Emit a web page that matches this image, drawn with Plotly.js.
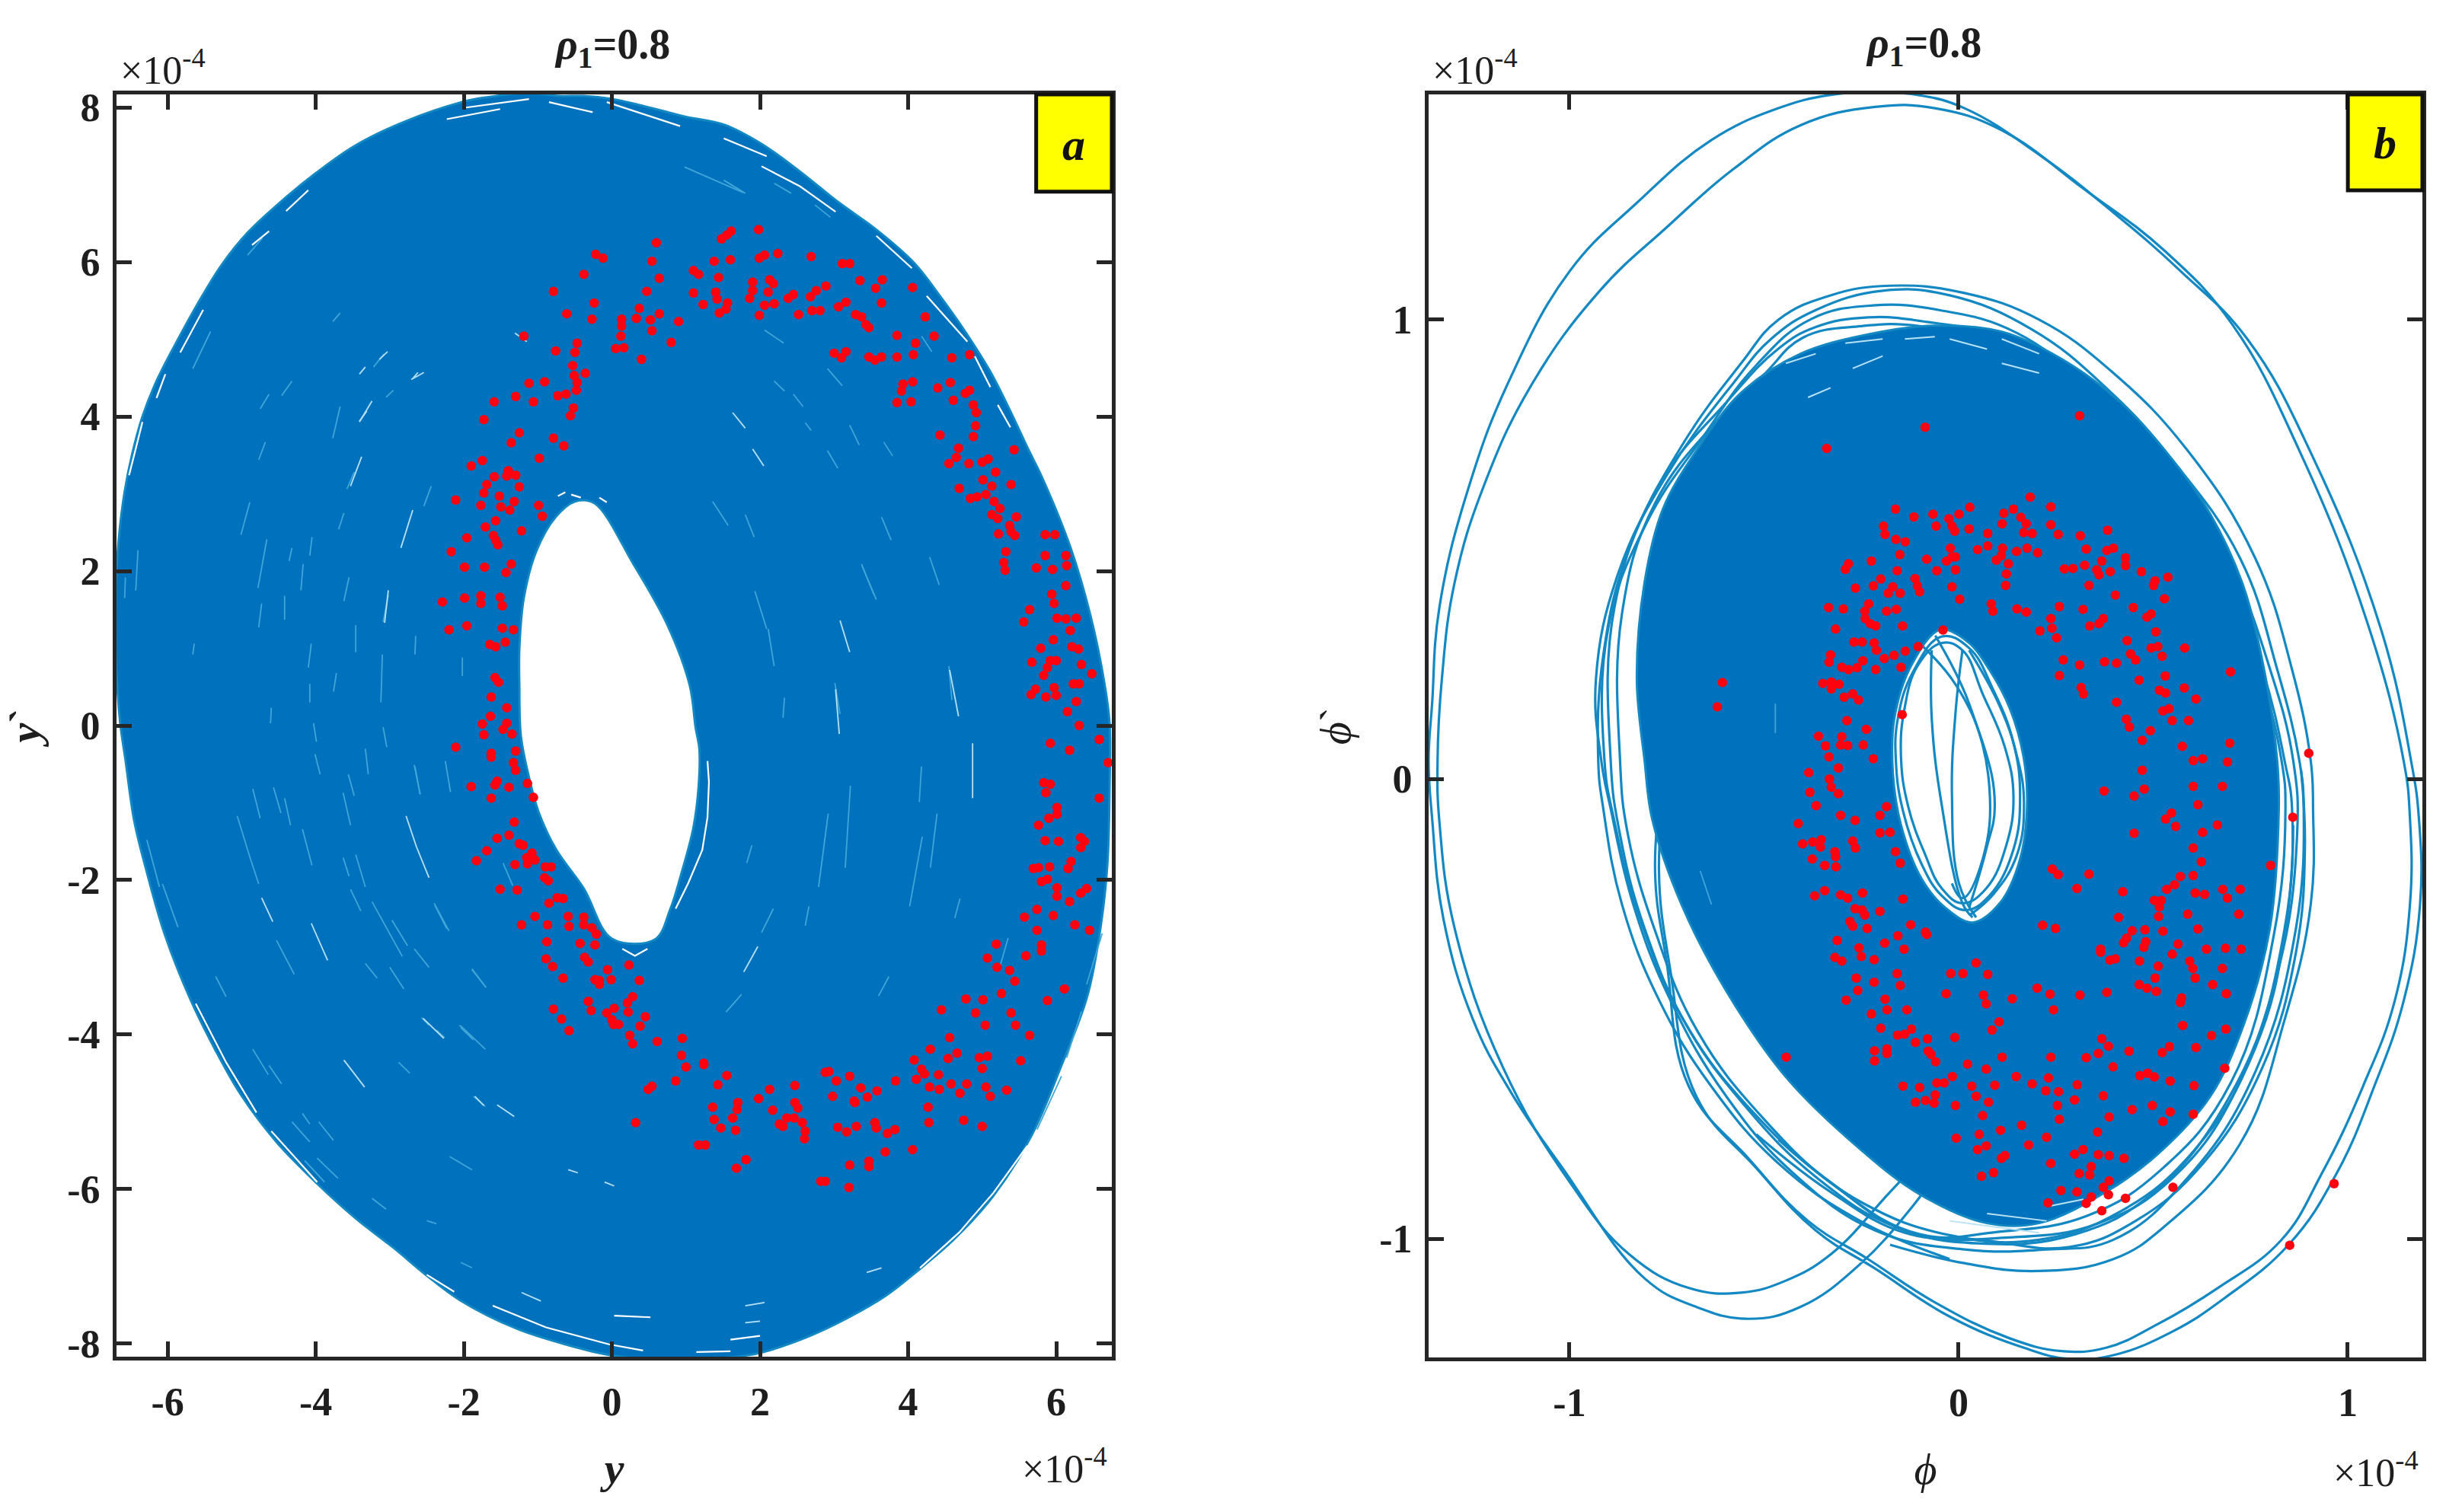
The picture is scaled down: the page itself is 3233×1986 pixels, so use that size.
<!DOCTYPE html>
<html><head><meta charset="utf-8">
<script src="https://cdn.plot.ly/plotly-3.0.1.min.js"></script>
<style>html,body{margin:0;padding:0;background:#fff}#c{width:3233px;height:1986px}</style>
</head><body><div id="c"></div>
<script>
const xTicksA=[-6,-4,-2,0,2,4,6], yTicksA=[-8,-6,-4,-2,0,2,4,6,8];
const xTicksB=[-1,0,1], yTicksB=[-1,0,1];
const titleText='<i>ρ</i><sub>1</sub>=0.8';

const ringOuterA=[[-6.70,1.4],[-6.69,1.99],[-6.65,2.51],[-6.58,3.03],[-6.48,3.51],[-6.34,4.0],[-6.14,4.48],[-5.86,5.0],[-5.6,5.45],[-5.28,5.95],[-4.92,6.38],[-4.46,6.79],[-4.00,7.15],[-3.48,7.50],[-2.82,7.81],[-2.03,8.07],[-1.71,8.13],[-1.12,8.19],[-.72,8.15],[-.39,8.15],[0,8.11],[.59,7.98],[1.0,7.88],[1.51,7.78],[2.02,7.53],[2.54,7.17],[3.05,6.78],[3.57,6.42],[4.08,5.99],[4.43,5.56],[4.77,5.10],[5.11,4.58],[5.39,4.05],[5.63,3.56],[5.80,3.23],[6.19,2.31],[6.46,1.43],[6.65,.55],[6.72,.03],[6.72,-.8],[6.69,-1.8],[6.60,-2.6],[6.42,-3.5],[6.07,-4.40],[5.67,-5.30],[5.15,-6.09],[4.62,-6.65],[4.10,-7.08],[3.70,-7.38],[3.18,-7.67],[2.65,-7.91],[2.00,-8.12],[1.47,-8.19],[.82,-8.21],[.03,-8.16],[-.63,-8.01],[-1.28,-7.81],[-2.05,-7.44],[-2.50,-7.12],[-2.95,-6.76],[-3.46,-6.38],[-3.98,-5.93],[-4.53,-5.39],[-5.01,-4.78],[-5.35,-4.21],[-5.69,-3.55],[-6.04,-2.70],[-6.28,-1.90],[-6.45,-1.24],[-6.57,-.44],[-6.64,.03],[-6.69,.7]];
const ringHoleA=[[-.5,2.90],[-.24,2.88],[.29,2.09],[.75,1.30],[1.05,.52],[1.13,-.03],[1.18,-.30],[1.17,-.79],[1.10,-1.32],[.93,-1.94],[.79,-2.37],[.58,-2.77],[0,-2.76],[-.38,-2.11],[-.75,-1.61],[-.99,-1.12],[-1.13,-.63],[-1.23,-.13],[-1.25,.52],[-1.25,.99],[-1.19,1.65],[-1.02,2.26],[-.76,2.70]];

const edgeSlitsA=[
[[-1.61,-7.51],[-.89,-7.79],[-.04,-8.01],[.42,-8.09]],[[4.16,-7.02],[4.69,-6.56],[5.15,-6.05],[5.61,-5.44]],
[[-5.52,5.38],[-5.83,4.83]],[[-6.03,4.55],[-6.15,4.24]],[[-6.34,3.93],[-6.52,3.24]],[[-4.86,6.22],[-4.63,6.40]],[[-4.40,6.66],[-4.10,6.93]],
[[-1.97,8.00],[-1.12,8.11]],[[-.85,8.07],[-.26,7.94]],[[-.07,8.07],[.92,7.76]],[[-2.23,7.85],[-1.51,7.98]],
[[2.02,7.24],[2.54,6.98],[3.02,6.65]],[[3.57,6.34],[4.05,5.92]],[[4.25,5.56],[4.80,4.97]],[[4.90,4.78],[5.11,4.38]],[[5.21,4.15],[5.38,3.86]],[[1.51,7.60],[1.71,7.52],[2.09,7.37]],
[[1.29,-.46],[1.31,-.73],[1.29,-1.19],[1.22,-1.61],[1.03,-2.04],[.86,-2.37]],[[.14,-2.89],[.31,-2.98],[.48,-2.89]],
[[-.73,2.97],[-.63,3.02]],[[-.55,2.99],[-.42,2.95]],[[-.17,2.95],[-.07,2.89]],
[[-5.62,-3.60],[-5.21,-4.36],[-4.80,-5.01]],[[-4.60,-5.25],[-3.98,-5.91]],[[-2.50,-7.11],[-2.13,-7.33]],
[[.03,-7.64],[.52,-7.66]],[[1.14,-8.11],[1.60,-8.10]],[[1.60,-7.95],[2.0,-7.90]]];
const brightStreaksA=[
[[1.80,-7.51],[2.06,-7.47]],[[-1.22,-7.34],[-.96,-7.45]],[[1.80,-7.73],[2.0,-7.71]],[[3.44,-7.08],[3.64,-7.02]],
[[-2.62,4.57],[-2.69,4.49]],[[-3.31,4.07],[-3.41,3.94]],[[1.63,4.05],[1.80,3.85]],[[1.90,3.58],[2.05,3.36]],[[-1.55,-4.91],[-1.32,-5.06]],[[-.59,-5.75],[-.46,-5.79]],[[-.10,-5.91],[.03,-5.96]],[[1.78,-3.19],[1.97,-2.86]],[[-2.78,-1.17],[-2.64,-1.57],[-2.47,-1.97]],[[3.08,1.36],[3.21,.95]],[[4.87,-.23],[4.87,-.94]],[[4.56,.72],[4.68,.12]],[[3.02,.47],[3.07,-.11]],[[-1.31,5.08],[-1.15,4.97]],
[[-2.71,4.48],[-2.54,4.57]],[[-3.41,4.55],[-3.33,4.64]],[[-3.14,4.74],[-3.03,4.84]],[[-3.41,3.93],[-3.24,4.20]],[[-2.85,2.30],[-2.69,2.79]],[[-3.53,3.10],[-3.38,3.48]],[[-3.07,1.33],[-3.02,1.75]],[[-4.73,-2.23],[-4.58,-2.54]],[[-2.55,-3.79],[-2.27,-4.05]],[[-3.62,-4.33],[-3.34,-4.68]],[[-1.85,-4.80],[-1.73,-4.92]],[[-4.06,-2.56],[-3.84,-3.04]]];
const lightStreaksA=[
[[-3.08,4.81],[-3.22,4.64]],[[-3.67,5.34],[-3.77,5.23]],[[-4.72,6.31],[-4.92,6.09]],[[.98,7.23],[1.77,6.90]],[[-3.48,3.28],[-3.58,3.06]],[[1.36,2.90],[1.57,2.59]],[[1.80,2.73],[1.92,2.44]],[[1.93,1.74],[2.09,1.25]],[[2.11,1.25],[2.19,.77]],[[4.55,.77],[4.59,.33]],[[3.37,2.09],[3.54,1.69]],[[4.29,2.18],[4.42,1.82]],[[3.64,2.70],[3.77,2.40]],[[3.21,3.89],[3.34,3.63]],[[2.45,4.29],[2.58,4.13]],[[2.06,5.12],[2.32,4.95]],[[2.91,4.62],[3.11,4.40]],[[-3.09,1.34],[-3.02,1.69]],[[3.01,.55],[3.08,.15]],[[3.38,2.06],[3.57,1.63]],[[4.39,-1.14],[4.30,-1.84]],[[4.19,-1.44],[4.02,-2.34]],[[2.92,-1.14],[2.79,-2.09]],[[3.22,-.78],[3.15,-1.84]],[[5.35,-2.75],[5.23,-3.15]],[[2.66,-2.34],[2.61,-2.59]],[[4.70,-2.24],[4.63,-2.49]],[[6.34,-3.70],[6.14,-4.30]],[[6.62,-2.69],[6.41,-3.35]],[[3.74,-3.25],[3.60,-3.50]],[[4.18,-.53],[4.15,-.99]],[[-2.66,-.53],[-2.59,-.89]],[[-2.25,-.46],[-2.18,-.86]],[[-1.47,-1.78],[-1.34,-2.07]],[[-2.40,-2.30],[-2.20,-2.66]],[[-1.89,-3.16],[-1.70,-3.39]],[[-2.06,-3.88],[-1.89,-4.04]],[[-2.57,-3.78],[-2.47,-3.88]],[[-2.37,-3.94],[-2.26,-4.04]],[[2.02,-2.68],[2.18,-2.37]],[[1.54,-3.71],[1.75,-3.48]],[[1.82,-1.78],[1.89,-1.55]],[[2.33,.36],[2.31,.10]],[[-2.04,-3.89],[-1.71,-4.19]],[[-1.87,-4.80],[-1.71,-4.93]],[[5.74,-5.23],[6.07,-4.54]],
[[2.19,4.46],[2.33,4.33]],[[2.91,3.56],[3.05,3.33]],[[3.67,3.67],[3.79,3.49]],[[2.61,3.92],[2.69,3.82]],[[1.51,7.06],[1.80,6.89]],[[2.19,7.02],[2.42,6.89]],[[2.74,6.74],[2.95,6.58]],[[4.18,5.04],[4.32,4.84]],
[[-5.06,-1.17],[-4.90,-1.67],[-4.77,-2.05]],[[-4.85,-.82],[-4.75,-1.20]],[[-4.57,-.80],[-4.47,-1.13]],[[-4.42,-.94],[-4.34,-1.29]],[[-4.18,-1.34],[-4.05,-1.81]],[[-3.63,-.87],[-3.53,-1.29]],[[-3.56,-.63],[-3.48,-.91]],[[-4.01,-.37],[-3.94,-.63]],[[-4.03,.03],[-3.99,-.21]],[[-3.09,-.02],[-3.04,-.28]],[[-2.67,-.51],[-2.59,-.89]],[[-3.33,-.30],[-3.29,-.63]],[[-4.53,-2.78],[-4.29,-3.22]],[[-6.28,-1.48],[-6.11,-2.09]],[[-6.07,-2.05],[-5.86,-2.61]],[[-5.35,-3.25],[-5.21,-3.51]],[[-3.24,-2.28],[-2.83,-2.99]],[[-2.97,-2.52],[-2.76,-2.85]],[[-3.53,-2.12],[-3.39,-2.40]],[[-3.63,-1.71],[-3.55,-1.95]],[[-3.46,-1.67],[-3.33,-2.09]],[[-3.33,-3.08],[-3.17,-3.27]],[[-3.00,-3.13],[-2.81,-3.41]],[[-2.39,-2.33],[-2.23,-2.63]],[[-2.67,-2.89],[-2.47,-3.13]],[[-2.04,-3.91],[-1.87,-4.07]],[[-1.89,-3.15],[-1.70,-3.39]],[[-4.85,-4.19],[-4.64,-4.52]],[[-4.63,-4.40],[-4.46,-4.64]],[[-4.32,-5.13],[-4.08,-5.39]],[[-3.96,-5.13],[-3.76,-5.37]],[[-4.18,-5.02],[-4.08,-5.16]],[[-4.15,-5.63],[-3.88,-5.91]],[[-3.98,-5.60],[-3.70,-5.86]],[[-3.24,-6.12],[-3.05,-6.26]],[[-2.50,-6.41],[-2.37,-6.45]],[[-2.19,-5.58],[-1.89,-5.75]],[[-2.88,-4.36],[-2.73,-4.50]],[[-2.04,-6.95],[-1.89,-7.02]],
[[-3.05,4.25],[-2.95,4.34]],[[-2.54,2.84],[-2.44,3.10]],[[-4.77,3.44],[-4.68,3.67]],[[-4.46,4.27],[-4.32,4.46]],[[-4.75,4.10],[-4.63,4.29]],[[-5.01,2.47],[-4.89,2.89]],[[-4.78,1.78],[-4.66,2.41]],[[-4.20,1.75],[-4.17,2.09]],[[-3.62,1.61],[-3.55,1.92]],[[-4.10,.75],[-4.06,1.06]],[[-3.12,.30],[-3.10,.92]],[[-4.08,.30],[-4.08,.54]],[[-4.61,.03],[-4.60,.23]],[[-3.76,.44],[-3.72,.68]],[[-6.43,1.75],[-6.40,2.27]],[[-6.58,1.65],[-6.57,1.92]],[[-5.66,.92],[-5.64,1.06]],[[-3.69,2.54],[-3.62,2.75]],[[-4.08,2.20],[-4.05,2.44]],[[-4.36,2.13],[-4.32,2.30]],[[-2.66,.92],[-2.65,1.16]],[[-2.02,.64],[-2.02,.88]],[[-3.46,.95],[-3.46,1.30]],[[-4.77,1.27],[-4.73,1.58]],[[-4.42,1.37],[-4.42,1.68]],[[-3.77,3.72],[-3.67,4.13]],[[-5.66,4.62],[-5.42,5.10]]];

const redA=[[1.98,6.42],[1.61,6.40],[1.55,6.35],[1.48,6.30],[.60,6.25],[-.22,6.10],[-.12,6.05],[.54,6.01],[1.38,6.01],[1.60,6.03],[1.99,6.05],[2.06,6.09],[2.24,6.11],[2.69,6.07],[3.11,5.98],[3.21,5.98],[1.10,5.89],[1.17,5.84],[-.38,5.84],[.64,5.79],[1.44,5.80],[2.13,5.77],[2.18,5.72],[1.90,5.74],[3.35,5.76],[3.65,5.77],[3.56,5.66],[2.89,5.69],[2.76,5.63],[2.68,5.55],[-.79,5.62],[.47,5.62],[1.10,5.60],[1.40,5.61],[1.42,5.52],[1.90,5.63],[1.86,5.53],[2.11,5.61],[2.45,5.58],[2.38,5.53],[4.06,5.67],[-.24,5.47],[1.23,5.45],[1.56,5.47],[1.54,5.39],[1.45,5.34],[2.06,5.44],[2.19,5.46],[.37,5.40],[3.16,5.48],[3.06,5.42],[3.64,5.47],[-.61,5.33],[.64,5.33],[1.99,5.31],[2.52,5.32],[2.70,5.37],[2.81,5.37],[3.29,5.32],[3.37,5.29],[4.23,5.29],[-.27,5.26],[.13,5.26],[.33,5.27],[.52,5.25],[.90,5.23],[3.43,5.19],[3.47,5.15],[.13,5.17],[.54,5.11],[.12,5.04],[-1.19,5.04],[3.85,5.05],[4.35,5.04],[-.47,4.95],[.80,4.96],[4.10,4.95],[.05,4.88],[.16,4.89],[-.76,4.85],[-.50,4.83],[3.16,4.84],[3.00,4.82],[3.10,4.76],[4.07,4.80],[4.83,4.80],[3.85,4.77],[3.47,4.77],[3.64,4.77],[3.55,4.73],[4.59,4.76],[.40,4.74],[-.53,4.66],[-.36,4.56],[-.51,4.53],[-.47,4.44],[-.48,4.34],[-.91,4.45],[-1.12,4.43],[4.06,4.45],[3.93,4.42],[3.91,4.33],[4.57,4.44],[4.40,4.37],[4.83,4.34],[4.77,4.30],[-.62,4.29],[-.73,4.27],[-1.30,4.26],[-1.06,4.19],[-1.59,4.19],[3.85,4.18],[4.04,4.19],[4.61,4.21],[4.88,4.15],[4.92,4.05],[-.52,4.11],[-.56,4.01],[-1.73,3.96],[4.91,3.88],[-1.25,3.79],[-.79,3.72],[4.88,3.74],[4.43,3.76],[-1.36,3.66],[-.65,3.62],[4.68,3.59],[5.43,3.57],[-.98,3.46],[4.65,3.47],[-1.75,3.43],[5.08,3.45],[5.0,3.41],[4.55,3.39],[4.82,3.39],[-1.90,3.36],[-1.40,3.30],[-1.30,3.24],[-1.42,3.23],[-1.59,3.22],[5.18,3.28],[-1.69,3.12],[-1.25,3.09],[5.01,3.18],[5.39,3.12],[5.13,3.10],[-1.73,3.01],[4.69,3.07],[5.05,2.99],[-1.52,2.97],[4.93,2.96],[4.84,2.94],[-2.11,2.92],[-1.32,2.90],[5.16,2.90],[-1.77,2.85],[-1.50,2.83],[-.99,2.85],[-1.38,2.79],[5.24,2.81],[-.94,2.71],[5.13,2.73],[5.21,2.68],[5.46,2.70],[-1.57,2.65],[-1.71,2.57],[5.37,2.59],[-1.22,2.52],[5.39,2.51],[5.22,2.48],[5.44,2.46],[5.85,2.47],[5.98,2.47],[-1.96,2.43],[-1.60,2.46],[-1.57,2.40],[-1.54,2.34],[-2.17,2.25],[5.32,2.25],[5.85,2.20],[6.13,2.20],[5.29,2.11],[-1.36,2.09],[-1.99,2.05],[-1.72,2.05],[5.31,2.01],[5.73,2.04],[5.95,2.02],[6.14,2.07],[-1.43,1.98],[6.13,1.81],[-1.77,1.68],[-1.99,1.65],[-2.29,1.60],[-1.51,1.66],[-1.77,1.58],[-1.48,1.55],[5.94,1.70],[5.97,1.58],[5.64,1.50],[5.56,1.34],[6.01,1.39],[6.13,1.38],[6.27,1.39],[-2.20,1.24],[-1.96,1.29],[-1.48,1.26],[-1.33,1.24],[6.19,1.23],[5.96,1.11],[-1.44,1.08],[-1.65,1.05],[-1.57,1.02],[5.79,1.00],[6.21,1.02],[6.30,.99],[5.67,.82],[5.92,.84],[6.0,.84],[6.34,.79],[5.88,.75],[6.48,.67],[5.83,.65],[-1.58,.62],[-1.53,.56],[5.72,.47],[5.66,.40],[5.97,.49],[6.23,.54],[6.31,.54],[5.86,.37],[6.0,.39],[6.27,.31],[6.15,.18],
[-1.63,.37],[-1.42,.23],[-1.64,.12],[-1.75,.02],[-1.42,.03],[-1.47,-.05],[-1.73,-.12],[-1.35,-.11],[-2.11,-.28],[-1.30,-.33],[-1.63,-.36],[-1.63,-.41],[-1.33,-.48],[-1.30,-.58],[-1.55,-.72],[-1.58,-.77],[-1.90,-.79],[-1.39,-.80],[-1.14,-.75],[-1.06,-.93],[-1.63,-.94],[-1.32,-1.25],[-1.39,-1.42],[-1.55,-1.46],[-1.69,-1.62],[-1.83,-1.75],[-1.25,-1.53],[-1.20,-1.55],[-1.08,-1.65],[-1.15,-1.71],[-1.04,-1.74],[-1.14,-1.79],[-1.31,-1.80],[-.90,-1.83],[-.82,-1.83],[-.91,-1.97],[-.86,-2.01],[-1.51,-2.12],[-1.28,-2.13],[-.74,-2.23],[-.66,-2.24],[-.85,-2.30],[-1.04,-2.47],[-1.22,-2.58],[-.87,-2.58],[-.59,-2.47],[-.58,-2.60],[-.38,-2.48],[-.38,-2.58],[-.27,-2.62],[-.21,-2.70],[-.88,-2.80],[-.43,-2.82],[-.23,-2.84],[-.89,-3.02],[-.80,-3.12],[-.37,-3.00],[-.32,-3.06],[-.66,-3.27],[-.06,-3.16],[.23,-3.10],[-.01,-3.29],[.37,-3.30],[-.23,-3.29],[-.17,-3.30],[-.17,-3.35],[.28,-3.51],[.21,-3.59],[-.32,-3.57],[-.28,-3.69],[-.79,-3.67],[-.68,-3.80],[-.58,-3.95],[.03,-3.66],[-.07,-3.72],[.22,-3.71],[0,-3.81],[.02,-3.87],[.09,-3.87],[.45,-3.77],[.38,-3.89],[.24,-4.01],[.28,-4.12],[.61,-4.09],[.95,-4.05],[.94,-4.27],[1.24,-4.37],
[6.58,-.18],[6.70,-.48],[5.92,-.23],[6.18,-.32],[6.31,0],[6.58,-.94],[5.83,-.74],[5.92,-.76],[5.86,-.87],[6.01,-1.06],[6.01,-1.15],[5.90,-1.20],[5.76,-1.29],[5.85,-1.49],[6.03,-1.50],[6.33,-1.45],[6.38,-1.50],[6.33,-1.58],[5.69,-1.85],[5.76,-1.84],[5.91,-1.83],[6.20,-1.76],[6.16,-1.85],[5.80,-2.02],[5.88,-1.99],[6.01,-2.10],[6.01,-2.21],[6.41,-2.11],[6.33,-2.17],[6.18,-2.28],[5.74,-2.38],[5.57,-2.48],[5.96,-2.46],[6.25,-2.58],[6.45,-2.65],[5.74,-2.65],[5.80,-2.84],[5.80,-2.92],[5.59,-2.98],[5.19,-2.83],[5.07,-3.01],[5.20,-3.13],[5.37,-3.17],[5.44,-3.31],[6.11,-3.41],[5.88,-3.56],[5.26,-3.47],[4.78,-3.54],[5.01,-3.55],[4.45,-3.68],[4.91,-3.72],[5.39,-3.72],[5.04,-3.88],[5.45,-3.88],[5.64,-4.01],[4.56,-4.04],[4.30,-4.19],[4.66,-4.24],[4.54,-4.31],[4.96,-4.30],[5.07,-4.28],[4.08,-4.33],[5.52,-4.34],[5.00,-4.44],[4.18,-4.45],[4.22,-4.51],[4.41,-4.52],[3.83,-4.60],[4.11,-4.58],[4.58,-4.64],[4.79,-4.64],[5.05,-4.68],[5.33,-4.72],[4.29,-4.68],[4.42,-4.71],[4.70,-4.76],[5.11,-4.80],[2.88,-4.49],[2.93,-4.48],[3.03,-4.60],[3.21,-4.54],[3.36,-4.69],[3.58,-4.73],[3.45,-4.81],[2.98,-4.80],[3.27,-4.86],
[1.0,-4.42],[1.24,-4.39],[1.55,-4.53],[.86,-4.60],[.54,-4.67],[.49,-4.71],[1.43,-4.65],[2.13,-4.71],[2.47,-4.66],[1.98,-4.83],[1.36,-4.94],[1.70,-4.88],[1.69,-4.97],[2.47,-4.88],[2.51,-4.95],[2.17,-4.98],[1.63,-5.08],[1.38,-5.10],[.32,-5.14],[2.36,-5.08],[2.46,-5.08],[2.57,-5.14],[1.47,-5.21],[1.67,-5.24],[2.26,-5.16],[2.31,-5.19],[2.61,-5.25],[2.60,-5.35],[3.05,-5.20],[3.17,-5.26],[3.30,-5.19],[3.55,-5.14],[3.57,-5.21],[3.72,-5.28],[3.82,-5.23],[4.28,-5.14],[4.75,-5.11],[5.0,-5.19],[1.17,-5.43],[1.26,-5.43],[3.69,-5.52],[4.06,-5.49],[1.81,-5.62],[1.68,-5.73],[3.21,-5.69],[3.47,-5.64],[3.47,-5.71],[2.82,-5.90],[2.88,-5.90],[3.20,-5.98],[3.28,-4.88],[4.27,-4.94]];

const coreB=[[-.061,.986],[.111,.973],[.264,.914],[.417,.819],[.532,.713],[.647,.576],[.733,.417],[.790,.217],[.819,.039],[.823,-.065],[.800,-.325],[.733,-.534],[.647,-.690],[.513,-.815],[.379,-.898],[.207,-.966],[.073,-.966],[-.100,-.903],[-.253,-.805],[-.444,-.648],[-.597,-.461],[-.712,-.273],[-.788,-.085],[-.807,.040],[-.827,.217],[-.807,.428],[-.760,.587],[-.674,.714],[-.559,.840],[-.406,.925],[-.233,.967]];
const coreHoleB=[[-.047,.325],[.027,.296],[.079,.238],[.132,.153],[.167,.048],[.176,-.058],[.158,-.174],[.106,-.270],[.036,-.312],[-.034,-.280],[-.095,-.217],[-.148,-.100],[-.169,.016],[-.165,.132],[-.121,.248]];
const orbitOuter1=[[-.05,-.85],[-.119,-.930],[-.253,-1.055],[-.406,-1.148],[-.540,-1.174],[-.674,-1.148],[-.807,-1.086],[-1.018,-.846],[-1.152,-.679],[-1.248,-.523],[-1.324,-.304],[-1.353,-.085],[-1.362,.040],[-1.353,.164],[-1.334,.375],[-1.257,.640],[-1.152,.872],[-.999,1.105],[-.827,1.253],[-.635,1.390],[-.463,1.459],[-.329,1.488],[-.214,1.493],[-.100,1.487],[.015,1.459],[.207,1.358],[.398,1.232],[.570,1.105],[.742,.957],[.915,.692],[1.087,.322],[1.163,.039],[1.183,-.085],[1.186,-.273],[1.144,-.482],[1.068,-.669],[.972,-.857],[.848,-1.013],[.685,-1.128],[.551,-1.201],[.398,-1.253],[.283,-1.261],[.168,-1.237],[-.023,-1.169],[-.214,-1.065],[-.367,-.982],[-.520,-.846],[-.674,-.690],[-.74,-.42],[-.77,-.2],[-.75,0]];
const orbitOuter2=[[-.09,-.82],[-.176,-.898],[-.329,-1.034],[-.444,-1.091],[-.559,-1.117],[-.693,-1.107],[-.846,-1.034],[-.999,-.877],[-1.171,-.627],[-1.295,-.325],[-1.334,-.096],[-1.339,.040],[-1.328,.217],[-1.295,.428],[-1.219,.640],[-1.095,.861],[-.922,1.062],[-.750,1.200],[-.578,1.327],[-.406,1.422],[-.214,1.462],[-.061,1.459],[.111,1.411],[.321,1.284],[.532,1.147],[.704,.988],[.876,.714],[1.049,.344],[1.144,.039],[1.160,-.085],[1.160,-.273],[1.121,-.482],[1.039,-.669],[.934,-.857],[.829,-1.003],[.666,-1.107],[.513,-1.185],[.379,-1.237],[.264,-1.244],[.130,-1.216],[-.061,-1.138],[-.233,-1.044],[-.387,-.961],[-.540,-.825],[-.693,-.669],[-.75,-.40],[-.78,-.20],[-.76,0]];
const orbitMid1=[[-.176,-1.013],[.015,-1.053],[.207,-1.070],[.398,-1.044],[.532,-.971],[.723,-.794],[.838,-.523],[.905,-.273],[.911,-.065],[.905,.040],[.857,.238],[.762,.481],[.589,.714],[.398,.883],[.207,.999],[.015,1.057],[-.176,1.073],[-.329,1.052],[-.463,.999],[-.559,.904],[-.712,.724],[-.846,.502],[-.913,.270],[-.926,.039],[-.913,-.065],[-.865,-.273],[-.769,-.482],[-.635,-.669],[-.463,-.836],[-.253,-.961],[-.023,-1.044]];
const orbitMid2=[[.876,.039],[.819,.238],[.723,.481],[.551,.692],[.379,.851],[.188,.978],[-.023,1.052],[-.195,1.062],[-.367,1.020],[-.482,.957],[-.578,.862],[-.750,.661],[-.874,.449],[-.932,.217],[-.918,.039],[-.894,-.065],[-.836,-.273],[-.740,-.482],[-.597,-.690],[-.425,-.857],[-.214,-.982],[.015,-1.023],[.226,-1.023],[.398,-1.002],[.589,-.867],[.762,-.638],[.867,-.325],[.887,-.065],[.876,.039]];
const orbitMid3=[[.838,.039],[.781,.238],[.685,.449],[.513,.661],[.321,.819],[.111,.957],[-.080,.994],[-.233,1.004],[-.367,.983],[-.463,.936],[-.597,.819],[-.769,.640],[-.884,.375],[-.894,.039],[-.871,-.117],[-.807,-.325],[-.693,-.544],[-.520,-.732],[-.329,-.877],[-.119,-.987],[.130,-.997],[.360,-.966],[.551,-.867],[.723,-.659],[.838,-.325],[.857,-.065],[.838,.039]];
const orbitMid4=[[.86,.04],[.80,.24],[.70,.46],[.53,.68],[.35,.84],[.15,.97],[-.05,1.02],[-.22,1.03],[-.38,1.0],[-.52,.90],[-.66,.74],[-.80,.56],[-.90,.33],[-.91,.04],[-.885,-.09],[-.82,-.30],[-.71,-.52],[-.55,-.71],[-.36,-.87],[-.16,-.975],[.05,-1.01],[.30,-.99],[.50,-.90],[.69,-.70],[.82,-.42],[.87,-.12],[.86,.04]];
const orbitMid5=[[.83,.04],[.77,.24],[.67,.43],[.50,.64],[.30,.80],[.10,.94],[-.10,.985],[-.25,.985],[-.40,.96],[-.50,.88],[-.62,.78],[-.78,.60],[-.865,.36],[-.87,.04],[-.85,-.12],[-.78,-.33],[-.67,-.55],[-.50,-.74],[-.31,-.89],[-.10,-.99],[.10,-.985],[.33,-.95],[.52,-.85],[.70,-.66],[.81,-.34],[.84,-.07],[.83,.04]];
const orbitLow1=[[-.520,-.773],[-.329,-.898],[-.138,-.987],[.054,-1.002],[.283,-1.018],[.455,-.961],[.628,-.836],[.781,-.627],[.867,-.377],[.89,-.15],[.88,.02]];
const orbitLow2=[[-.463,-.784],[-.253,-.919],[-.023,-.992],[.207,-1.002],[.417,-.940],[.608,-.805],[.762,-.586],[.84,-.33],[.86,-.1]];
const ringB1=[[-.043,.310],[.027,.285],[.088,.196],[.141,.079],[.158,-.037],[.141,-.153],[.079,-.254],[.018,-.285],[-.043,-.254],[-.095,-.185],[-.143,-.069],[-.161,.037],[-.156,.132],[-.117,.233],[-.043,.310]];
const ringB2=[[-.043,.296],[.010,.280],[.062,.185],[.119,.069],[.141,-.037],[.123,-.143],[.071,-.238],[.010,-.270],[-.043,-.238],[-.086,-.164],[-.130,-.058],[-.148,.048],[-.139,.153],[-.104,.248],[-.043,.296]];
const ringB3=[[.027,.280],[.105,.160],[.150,.050],[.168,-.050],[.150,-.165],[.090,-.250],[.030,-.295]];
const diagB1=[[-.060,.312],[.027,.164],[.079,-.016],[.062,-.174],[.010,-.259],[-.017,-.227]];
const diagB2=[[-.069,.280],[-.069,.132],[-.043,-.058],[.010,-.270],[.036,-.301]];
const diagB3=[[.010,.280],[-.008,.143],[-.017,-.037],[.001,-.227],[.045,-.301]];
const diagB4=[[-.095,.291],[-.008,.206],[.062,.079],[.093,-.058],[.071,-.153],[.027,-.280]];
const lightStreaksB=[[[-.471,.164],[-.471,.100]],[[-.664,-.2],[-.635,-.273]]];
const brightArcsB=[[[-.444,.904],[-.367,.925]],[[-.387,.830],[-.329,.851]],[[-.291,.948],[-.195,.957]],[[-.272,.893],[-.195,.920]],[[-.138,.957],[-.061,.962]],[[-.023,.957],[.073,.935]],[[.111,.957],[.207,.925]],[[.111,.904],[.207,.883]],[[.073,-.945],[.226,-.961]],[[-.023,-.961],[.207,-.987]],[[.226,-.930],[.321,-.914]]];

const redB=[[.184,.613],[-.162,.587],[.029,.591],[.237,.592],[.141,.587],[-.115,.570],[-.066,.576],[.001,.576],[-.025,.566],[.116,.578],[.160,.569],[-.193,.550],[-.058,.550],[.112,.555],[-.017,.550],[-.010,.539],[.027,.544],[.174,.555],[.237,.553],[.383,.541],[-.189,.532],[.075,.534],[.167,.536],[.189,.534],[.256,.532],[.313,.529],[-.161,.521],[-.137,.516],[-.151,.488],[-.021,.502],[.049,.499],[.075,.507],[.113,.502],[.149,.495],[.176,.502],[.203,.492],[.328,.500],[.381,.497],[.398,.502],[-.017,.483],[-.082,.478],[-.031,.474],[-.008,.483],[-.224,.474],[.097,.476],[.110,.486],[.368,.474],[.429,.481],[.128,.468],[.429,.464],[-.283,.468],[-.291,.456],[.272,.457],[.294,.458],[.324,.465],[.355,.455],[-.158,.453],[-.056,.453],[-.008,.455],[.470,.451],[.390,.451],[.123,.446],[.361,.444],[.538,.439],[.505,.431],[-.112,.436],[-.200,.435],[.121,.421],[-.219,.420],[-.265,.415],[-.017,.418],[-.106,.420],[-.169,.418],[.335,.421],[.501,.421],[-.100,.407],[-.181,.404],[-.150,.404],[.403,.400],[.003,.391],[.529,.392],[.084,.381],[-.334,.373],[-.296,.370],[-.231,.381],[-.160,.369],[-.185,.365],[.150,.370],[.174,.363],[.259,.375],[.320,.369],[.449,.373],[.088,.365],[-.241,.365],[.495,.359],[.484,.352],[-.240,.349],[-.227,.338],[.237,.349],[.372,.349],[.361,.338],[.337,.333],[-.144,.333],[-.213,.333],[-.316,.326],[.209,.322],[.240,.328],[-.040,.324],[.507,.320],[.252,.307],[.433,.301],[-.269,.298],[-.248,.298],[-.217,.296],[-.104,.288],[.581,.285],[.495,.285],[.512,.288],[-.211,.280],[-.137,.278],[.442,.272],[-.329,.270],[-.191,.262],[-.166,.269],[.523,.267],[.455,.259],[.269,.259],[.375,.255],[.406,.252],[-.333,.254],[.311,.248],[-.300,.243],[-.246,.257],[-.261,.242],[-.283,.238],[-.148,.243],[-.213,.238],[.259,.225],[.699,.233],[.531,.224],[.464,.215],[-.349,.208],[-.327,.211],[-.307,.206],[-.327,.196],[.580,.198],[.315,.199],[.321,.185],[.516,.193],[.532,.187],[-.272,.185],[-.294,.178],[-.257,.172],[.610,.174],[.406,.167],[.541,.153],[.525,.148],[-.145,.140],[-.287,.127],[.431,.130],[.549,.127],[.591,.127],[.439,.113],[-.237,.108],[-.360,.093],[-.300,.092],[.493,.105],[.472,.084],[-.303,.074],[-.285,.073],[-.245,.074],[-.342,.072],[.575,.071],[.697,.078],[-.219,.044],[-.333,.048],[.603,.040],[.627,.044],[.691,.037],[-.309,.024],[-.385,.014],[.472,.019],[-.332,0],[-.327,-.018],[.477,-.022],[.374,-.026],[.451,-.037],[.603,-.016],[.678,-.016],[-.382,-.029],[-.309,-.032],[-.366,-.058],[-.185,-.060],[.615,-.056],[-.303,-.079],[-.202,-.079],[.547,-.074],[.532,-.087],[-.266,-.090],[-.412,-.097],[.558,-.103],[.665,-.100],[-.202,-.117],[-.176,-.116],[.451,-.118],[.627,-.116],[-.353,-.132],[-.375,-.137],[-.401,-.141],[-.272,-.135],[-.265,-.150],[-.355,-.148],[.603,-.150],[-.318,-.158],[-.162,-.158],[-.316,-.169],[-.376,-.174],[-.150,-.183],[.624,-.180],[-.344,-.188],[-.315,-.191],[.802,-.188],[.241,-.196],[.256,-.208],[.335,-.207],[.603,-.210],[.570,-.212],[.555,-.230],[.304,-.238],[.535,-.240],[.679,-.240],[.724,-.240],[-.344,-.243],[.422,-.245],[-.370,-.254],[-.303,-.252],[-.285,-.259],[-.247,-.248],[.608,-.248],[.632,-.251],[.691,-.259],[.503,-.264],[.521,-.264],[-.143,-.261],[-.266,-.282],[-.248,-.285],[-.202,-.288],[.516,-.278],[.411,-.301],[.514,-.299],[.589,-.294],[.720,-.294],[-.241,-.296],[-.279,-.310],[-.272,-.320],[-.123,-.317],[.216,-.318],[.249,-.325],[-.235,-.325],[.525,-.331],[.446,-.330],[.479,-.328],[.615,-.326],[-.085,-.333],[-.082,-.338],[-.156,-.341],[.432,-.346],[-.312,-.351],[.424,-.356],[-.190,-.357],[.481,-.354],[.476,-.366],[.564,-.359],[-.256,-.367],[-.140,-.370],[.365,-.370],[.637,-.370],[.686,-.368],[.726,-.370],[.549,-.381],[-.318,-.388],[-.250,-.386],[.365,-.377],[-.300,-.396],[.403,-.391],[.389,-.394],[-.217,-.393],[.465,-.396],[.594,-.396],[.045,-.400],[.513,-.407],[.602,-.412],[.678,-.412],[-.020,-.423],[.011,-.423],[.075,-.425],[-.158,-.423],[.505,-.433],[.608,-.433],[-.263,-.433],[-.217,-.442],[.464,-.447],[.653,-.447],[-.150,-.449],[.484,-.455],[.202,-.455],[-.259,-.460],[.508,-.462],[-.032,-.467],[.064,-.470],[.235,-.468],[.312,-.470],[.381,-.464],[.688,-.467],[.138,-.478],[-.289,-.481],[-.189,-.479],[.573,-.476],[.570,-.486],[.071,-.489],[-.184,-.502],[-.133,-.502],[.244,-.502],[-.224,-.511],[.104,-.528],[-.200,-.542],[.576,-.536],[.086,-.546],[.687,-.544],[-.121,-.544],[-.157,-.557],[-.139,-.555],[.650,-.558],[-.010,-.562],[-.080,-.565],[.368,-.565],[-.111,-.573],[.385,-.581],[-.216,-.591],[-.184,-.587],[.542,-.582],[.610,-.584],[.438,-.592],[.523,-.595],[.359,-.597],[-.078,-.592],[-.184,-.597],[-.071,-.599],[.237,-.605],[.112,-.605],[.328,-.606],[-.443,-.605],[-.216,-.613],[-.059,-.615],[.397,-.626],[.023,-.620],[.071,-.631],[.684,-.629],[.466,-.645],[.486,-.640],[-.016,-.647],[.148,-.647],[.503,-.648],[-.056,-.661],[-.037,-.661],[.231,-.650],[.189,-.663],[.544,-.657],[-.143,-.668],[-.100,-.671],[.034,-.668],[.093,-.666],[.305,-.665],[.605,-.667],[.224,-.678],[.257,-.680],[-.060,-.687],[.045,-.690],[.372,-.689],[-.111,-.703],[-.085,-.699],[-.063,-.705],[.077,-.703],[.298,-.698],[-.008,-.710],[.254,-.710],[.498,-.710],[.446,-.719],[.544,-.724],[.603,-.729],[.062,-.732],[.387,-.735],[.259,-.740],[.525,-.745],[.162,-.753],[.108,-.764],[.357,-.768],[.053,-.773],[-.006,-.781],[.226,-.779],[.071,-.798],[.049,-.806],[.180,-.796],[.320,-.806],[.298,-.816],[.119,-.819],[.110,-.825],[.359,-.817],[.387,-.819],[.425,-.825],[.237,-.836],[.341,-.843],[.310,-.858],[.337,-.861],[.090,-.856],[.059,-.864],[.387,-.874],[.372,-.888],[.551,-.888],[.304,-.898],[.263,-.895],[.385,-.904],[.341,-.909],[.328,-.923],[.230,-.922],[.429,-.912],[.368,-.939],[.311,.790],[-.086,.765],[-.339,.719],[-.607,.210],[-.620,.157],[.900,.056],[.859,-.083],[.965,-.880],[.851,-1.014]];

const BLUE='#0071bc', STRAND='#1388c2', LIGHT='#3fa6d8', BRIGHT='#b6e2f4', RED='#ff0210';
const fillTrace=(pts,col,ax,lineCol,w)=>({x:pts.map(p=>p[0]).concat(pts[0][0]),y:pts.map(p=>p[1]).concat(pts[0][1]),mode:'lines',fill:'toself',fillcolor:col,line:{color:lineCol,width:w,shape:'spline',smoothing:1},xaxis:'x'+ax,yaxis:'y'+ax,hoverinfo:'skip',showlegend:false});
const lineTrace=(pts,col,w,ax)=>({x:pts.map(p=>p[0]),y:pts.map(p=>p[1]),mode:'lines',line:{color:col,width:w,shape:'spline',smoothing:1.2},xaxis:'x'+ax,yaxis:'y'+ax,hoverinfo:'skip',showlegend:false});
const segTrace=(segs,col,w,ax)=>{const xs=[],ys=[];segs.forEach(s=>{s.forEach(p=>{xs.push(p[0]);ys.push(p[1]);});xs.push(null);ys.push(null);});return {x:xs,y:ys,mode:'lines',line:{color:col,width:w},xaxis:'x'+ax,yaxis:'y'+ax,hoverinfo:'skip',showlegend:false};};
const dots=(pts,ax)=>({x:pts.map(p=>p[0]),y:pts.map(p=>p[1]),mode:'markers',marker:{color:RED,size:12.5,line:{width:0}},xaxis:'x'+ax,yaxis:'y'+ax,hoverinfo:'skip',showlegend:false});

const strandsB=[orbitOuter1,orbitOuter2,orbitMid1,orbitMid2,orbitMid3,orbitMid4,orbitMid5,orbitLow1,orbitLow2];
const holeStrandsB=[ringB1,ringB2,ringB3,diagB1,diagB2,diagB3,diagB4];
const data=[
 fillTrace(ringOuterA,BLUE,'',STRAND,3),
 fillTrace(ringHoleA,'#ffffff','',STRAND,3),
 segTrace(lightStreaksA,LIGHT,1.8,''),
 segTrace(brightStreaksA,BRIGHT,1.8,''),
 segTrace(edgeSlitsA,'#ffffff',2.2,''),
 dots(redA,''),
 ...strandsB.map(s=>lineTrace(s,STRAND,3.2,'2')),
 fillTrace(coreB,BLUE,'2',STRAND,3),
 fillTrace(coreHoleB,'#ffffff','2',STRAND,3),
 ...holeStrandsB.map(s=>lineTrace(s,STRAND,3.2,'2')),
 segTrace(lightStreaksB,LIGHT,1.8,'2'),
 segTrace(brightArcsB,BRIGHT,2,'2'),
 dots(redB,'2')
];

const W=3233,H=1986, FONT='Liberation Serif', INK='#1e1e1e';
const pxX=v=>v/W, pxY=v=>1-v/H;
const axis=(tv,range,dom,anchor,standoff,titleTxt,titleStandoff)=>({tickvals:tv,ticktext:tv.map(String),range:range,domain:dom,anchor:anchor,showgrid:false,zeroline:false,showline:true,linewidth:5,linecolor:'#262626',mirror:'ticks',ticks:'inside',ticklen:20,tickwidth:5,tickcolor:'#262626',tickfont:{family:FONT,size:52,color:INK,weight:700},automargin:false,ticklabelstandoff:standoff,title:{text:titleTxt,font:{family:FONT,size:58,color:INK},standoff:titleStandoff}});
const note=(text,x,y,opt)=>Object.assign({text:text,x:pxX(x),y:pxY(y),xref:'paper',yref:'paper',showarrow:false,xanchor:'center',yanchor:'middle',font:{family:FONT,size:52,color:INK}},opt||{});
const layout={
 width:W,height:H,paper_bgcolor:'#fff',plot_bgcolor:'#fff',margin:{l:0,r:0,t:0,b:0},showlegend:false,
 xaxis:axis(xTicksA,[-6.69,6.75],[pxX(153),pxX(1460)],'y',10,'<b><i>y</i></b>',40),
 yaxis:axis(yTicksA,[-8.17,8.17],[1-1782/H,1-124/H],'x',6,'<b><i>y</i>`</b>',20),
 xaxis2:axis(xTicksB,[-1.362,1.192],[pxX(1876),pxX(3181)],'y2',10,'<i>ϕ</i>',40),
 yaxis2:axis(yTicksB,[-1.258,1.489],[1-1783/H,1-124/H],'x2',6,'<i>ϕ</i>`',20),
 shapes:[
  {type:'rect',xref:'x domain',yref:'y domain',x0:.924,x1:1,y0:.923,y1:1,fillcolor:'#ffff00',line:{color:'#111',width:5},layer:'above'},
  {type:'rect',xref:'x2 domain',yref:'y2 domain',x0:.925,x1:1,y0:.924,y1:1,fillcolor:'#ffff00',line:{color:'#111',width:5},layer:'above'}
 ],
 annotations:[
  note('<b>'+titleText+'</b>',804,62,{font:{family:FONT,size:56,color:INK}}),
  note('<b>'+titleText+'</b>',2526,60,{font:{family:FONT,size:56,color:INK}}),
  note('<b><i>a</i></b>',1410,190,{font:{family:FONT,size:60,color:'#111'}}),
  note('<b><i>b</i></b>',3132,188,{font:{family:FONT,size:60,color:'#111'}}),
  note('×10<sup>-4</sup>',214,88,{}),
  note('×10<sup>-4</sup>',1398,1925,{}),
  note('×10<sup>-4</sup>',1937,88,{}),
  note('×10<sup>-4</sup>',3120,1930,{})
 ]
};
Plotly.newPlot('c',data,layout,{staticPlot:true,displayModeBar:false});
</script></body></html>
